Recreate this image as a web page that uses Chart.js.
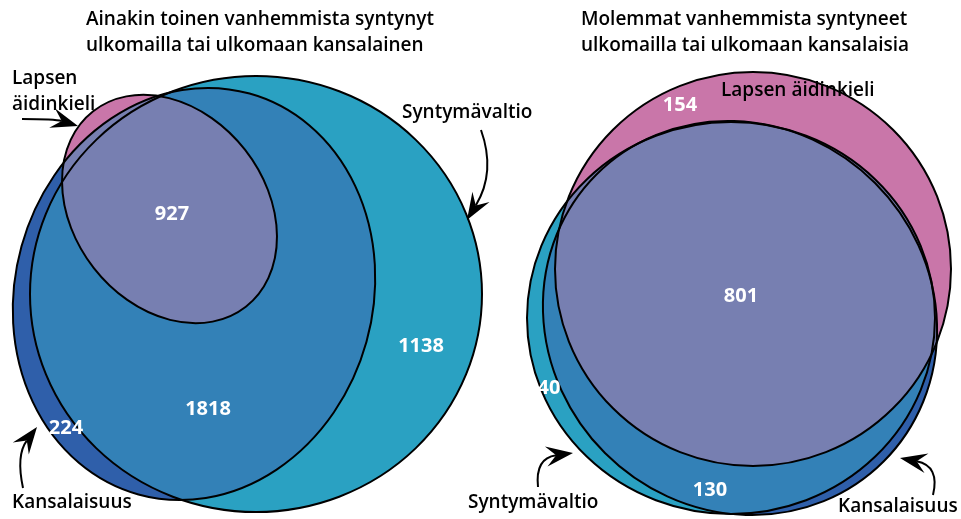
<!DOCTYPE html>
<html>
<head>
<meta charset="utf-8">
<script src="https://cdn.jsdelivr.net/npm/chart.js@4/dist/chart.umd.min.js"></script>
<style>
  html, body { margin: 0; padding: 0; background: #fff; }
  #wrap { width: 961px; height: 519px; }
</style>
</head>
<body>
<div id="wrap"><canvas id="venn" width="961" height="519"></canvas></div>
<script>
// Sets, in the order Syntymävaltio, Kansalaisuus, Lapsen äidinkieli
const setNames = ['Syntymävaltio', 'Kansalaisuus', 'Lapsen äidinkieli'];
const panelTitles = [
    ['Ainakin toinen vanhemmista syntynyt', 'ulkomailla tai ulkomaan kansalainen'],
    ['Molemmat vanhemmista syntyneet', 'ulkomailla tai ulkomaan kansalaisia']
];

// Region counts shown in the diagrams
const leftCounts = [927, 1818, 224, 1138];
const rightCounts = [154, 801, 40, 130];

// Fitted ellipses (diagram units), same set order as setNames
const leftCx = [256, 194, 169.5];
const leftCy = [294, 294, 209];
const leftRx = [226, 179, 124];
const leftRy = [218, 208, 96];
const leftRot = [0, 15.5, 52];

const rightCx = [731, 740, 753];
const rightCy = [318, 318, 269];
const rightRx = [204, 203, 198];
const rightRy = [196, 191, 197];
const rightRot = [0, 45, 0];

// Where the count labels sit
const leftLabelX = [172, 208, 66, 421];
const leftLabelY = [214, 409, 428, 346];
const rightLabelX = [680, 741, 549, 710];
const rightLabelY = [105, 296, 388, 490];

const colors = {
    syntyma: '#2aa1c2',
    kansalaisuus: '#2f5faa',
    both: '#3381b7',
    kieli: '#c976a9',
    all: '#777fb1'
};

function ellipses(cx, cy, rx, ry, rot) {
    return cx.map((x, i) => ({ cx: x, cy: cy[i], rx: rx[i], ry: ry[i], rot: rot[i] }));
}
const panels = [
    ellipses(leftCx, leftCy, leftRx, leftRy, leftRot),
    ellipses(rightCx, rightCy, rightRx, rightRy, rightRot)
];

function ellPath(chart, ctx, e) {
    const xs = chart.scales.x, ys = chart.scales.y;
    const px = xs.getPixelForValue(e.cx);
    const py = ys.getPixelForValue(e.cy);
    const rx = xs.getPixelForValue(e.cx + e.rx) - px;
    const ry = Math.abs(ys.getPixelForValue(e.cy + e.ry) - py);
    const r = e.rot * Math.PI / 180;
    ctx.moveTo(px + rx * Math.cos(r), py + rx * Math.sin(r));
    ctx.ellipse(px, py, rx, ry, r, 0, Math.PI * 2);
}

function fillEll(chart, ctx, e, color) {
    ctx.beginPath();
    ellPath(chart, ctx, e);
    ctx.fillStyle = color;
    ctx.fill();
}

function pt(chart, x, y) {
    return [chart.scales.x.getPixelForValue(x), chart.scales.y.getPixelForValue(y)];
}

// label text, x, y (left aligned, baseline)
const setLabels = [
    ['Lapsen', 12, 84], ['äidinkieli', 12, 110], ['Syntymävaltio', 402, 118], ['Kansalaisuus', 12, 508],
    ['Lapsen äidinkieli', 721, 96], ['Syntymävaltio', 468, 508], ['Kansalaisuus', 838, 512]
];
// arrows: tail, control, tip
const arrows = [
    [22, 119, 55, 119, 78, 126],
    [481, 130, 496, 172, 467, 220],
    [23, 488, 16, 455, 37, 427],
    [538, 487, 535, 458, 573, 453],
    [933, 495, 940, 466, 900, 458]
];

function drawArrow(chart, ctx, a) {
    const [x0, y0] = pt(chart, a[0], a[1]);
    const [cx, cy] = pt(chart, a[2], a[3]);
    const [x1, y1] = pt(chart, a[4], a[5]);
    const ang = Math.atan2(y1 - cy, x1 - cx);
    const len = 27, half = 10, notch = 17;
    const c = Math.cos(ang), s = Math.sin(ang);
    const bx = x1 - c * notch, by = y1 - s * notch;
    ctx.beginPath();
    ctx.moveTo(x0, y0);
    ctx.quadraticCurveTo(cx, cy, bx, by);
    ctx.strokeStyle = '#000';
    ctx.lineWidth = 2;
    ctx.stroke();
    ctx.beginPath();
    ctx.moveTo(x1, y1);
    ctx.lineTo(x1 - c * len - s * half, y1 - s * len + c * half);
    ctx.lineTo(bx, by);
    ctx.lineTo(x1 - c * len + s * half, y1 - s * len - c * half);
    ctx.closePath();
    ctx.fillStyle = '#000';
    ctx.fill();
}

const vennPlugin = {
    id: 'venn',
    beforeDatasetsDraw(chart) {
        const ctx = chart.ctx;
        ctx.save();
        panels.forEach(p => {
            const [a, b, c] = p;
            fillEll(chart, ctx, a, colors.syntyma);
            fillEll(chart, ctx, b, colors.kansalaisuus);
            ctx.save();
            ctx.beginPath();
            ellPath(chart, ctx, a);
            ctx.clip();
            fillEll(chart, ctx, b, colors.both);
            ctx.restore();
            fillEll(chart, ctx, c, colors.kieli);
            ctx.save();
            ctx.beginPath();
            ellPath(chart, ctx, a);
            ellPath(chart, ctx, b);
            ctx.clip();
            fillEll(chart, ctx, c, colors.all);
            ctx.restore();
            ctx.strokeStyle = '#000';
            ctx.lineWidth = 2;
            [a, b, c].forEach(e => {
                ctx.beginPath();
                ellPath(chart, ctx, e);
                ctx.stroke();
            });
        });
        ctx.restore();
    },
    afterDatasetsDraw(chart) {
        const ctx = chart.ctx;
        ctx.save();
        // counts
        ctx.fillStyle = '#fff';
        ctx.font = 'bold 20px "Open Sans"';
        ctx.textAlign = 'center';
        ctx.textBaseline = 'middle';
        chart.data.datasets.forEach((ds, di) => {
            chart.getDatasetMeta(di).data.forEach((el, i) => {
                ctx.fillText(String(ds.data[i].v), el.x, el.y);
            });
        });
        // set names and titles
        ctx.fillStyle = '#000';
        ctx.textAlign = 'left';
        ctx.textBaseline = 'alphabetic';
        ctx.font = '600 19px "Open Sans"';
        setLabels.forEach(l => {
            const [x, y] = pt(chart, l[1], l[2]);
            ctx.fillText(l[0], x, y);
        });
        [[86, 25], [581, 25]].forEach((t, i) => {
            const [x, y] = pt(chart, t[0], t[1]);
            ctx.fillText(panelTitles[i][0], x, y);
            ctx.fillText(panelTitles[i][1], x, y + 26);
        });
        arrows.forEach(a => drawArrow(chart, ctx, a));
        ctx.restore();
    }
};

function points(xs, ys, vals) {
    return vals.map((v, i) => ({ x: xs[i], y: ys[i], v: v }));
}

new Chart(document.getElementById('venn'), {
    type: 'scatter',
    data: {
        datasets: [
            { label: 'left', data: points(leftLabelX, leftLabelY, leftCounts), pointRadius: 0 },
            { label: 'right', data: points(rightLabelX, rightLabelY, rightCounts), pointRadius: 0 }
        ]
    },
    options: {
        responsive: false,
        animation: false,
        events: [],
        layout: { padding: 0 },
        scales: {
            x: { type: 'linear', min: 0, max: 961, display: false },
            y: { type: 'linear', min: 0, max: 519, reverse: true, display: false }
        },
        plugins: {
            legend: { display: false },
            tooltip: { enabled: false }
        }
    },
    plugins: [vennPlugin]
});
</script>
</body>
</html>
